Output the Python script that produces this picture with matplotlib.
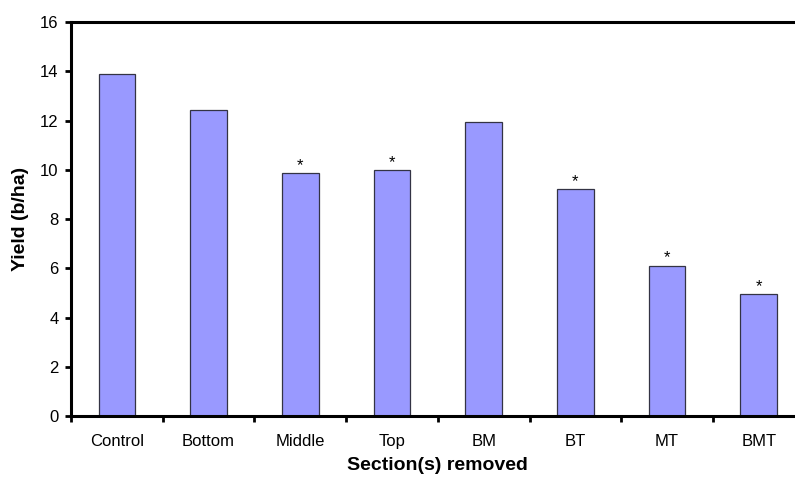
import matplotlib.pyplot as plt
from matplotlib.ticker import FixedLocator, NullFormatter

plt.rcParams["font.family"] = ["Liberation Sans", "DejaVu Sans"]

sections = ["Control", "Bottom", "Middle", "Top", "BM", "BT", "MT", "BMT"]
yield_bha = [13.89, 12.43, 9.85, 9.99, 11.94, 9.20, 6.10, 4.96]
significant = [False, False, True, True, False, True, True, True]

fig = plt.figure(figsize=(7.95, 4.84), dpi=100)
# plot area runs a little past the right edge of the figure
ax = fig.add_axes([71 / 795, 68 / 484, 8 * 91.7 / 795, 394 / 484])

centers = [i + 0.5 for i in range(len(sections))]
ax.bar(centers, yield_bha, width=0.4, color="#9999FF", edgecolor="#333344", linewidth=0.9, zorder=2)

for x, y, sig in zip(centers, yield_bha, significant):
    if sig:
        ax.text(x, y + 0.13, "*", ha="center", va="baseline", fontsize=12)

ax.set_xlim(0, len(sections))
ax.set_ylim(0, 16)
ax.set_yticks(range(0, 17, 2))

# category boundaries get the tick marks, names sit between them
ax.xaxis.set_major_locator(FixedLocator(range(len(sections) + 1)))
ax.xaxis.set_major_formatter(NullFormatter())
ax.xaxis.set_minor_locator(FixedLocator(centers))
ax.set_xticklabels(sections, minor=True)
ax.tick_params(axis="x", which="minor", length=0, pad=13, labelsize=12)
ax.tick_params(axis="x", which="major", direction="out", length=4, width=2)
ax.tick_params(axis="y", direction="out", length=4, width=2, pad=5, labelsize=12)

for side in ["left", "bottom", "top"]:
    ax.spines[side].set_linewidth(2.2)
ax.spines["right"].set_visible(False)

ax.set_ylabel("Yield (b/ha)", fontsize=14, fontweight="bold", labelpad=8)
ax.set_xlabel("Section(s) removed", fontsize=14, fontweight="bold", labelpad=6)

fig.savefig("out.png", dpi=100)
